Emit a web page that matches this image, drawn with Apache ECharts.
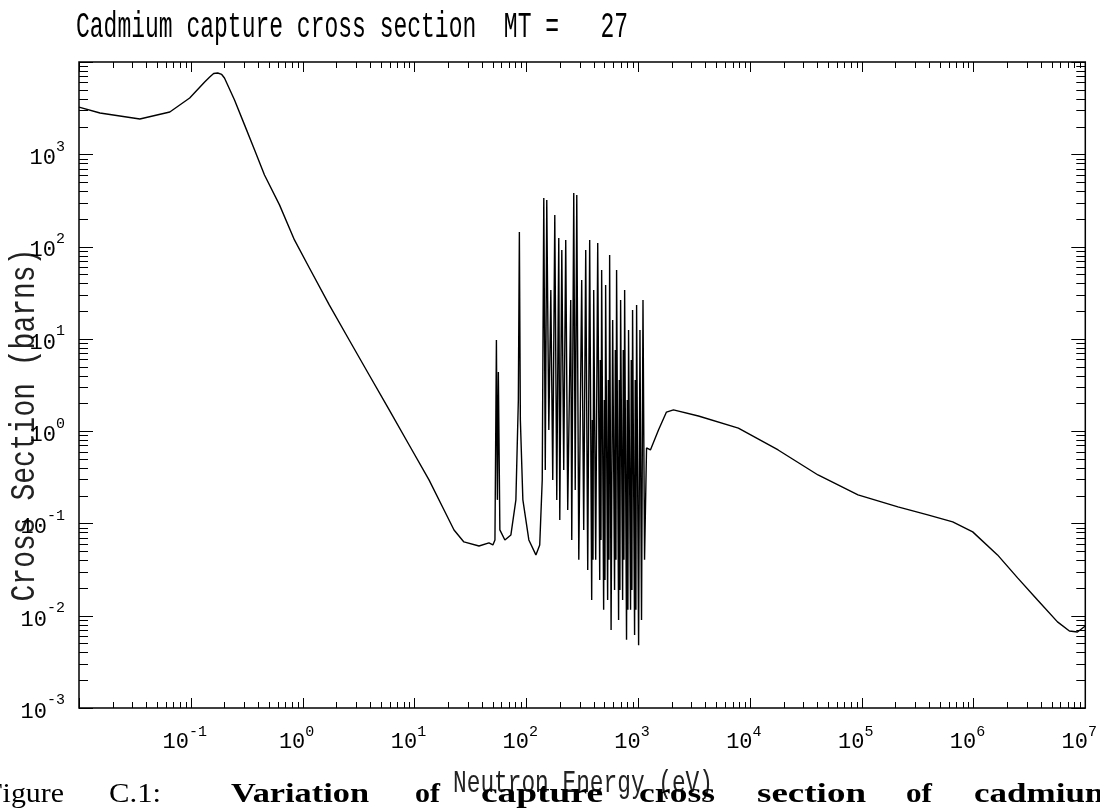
<!DOCTYPE html>
<html><head><meta charset="utf-8">
<script src="https://cdn.jsdelivr.net/npm/echarts@6/dist/echarts.min.js"></script>
<style>html,body{margin:0;padding:0;background:#fff}#c{width:1100px;height:810px}</style>
</head><body><div id="c"></div>
<script>
// ---- data ----
const energyEV = [
  0.01, 0.0154, 0.035, 0.0649, 0.0977, 0.133, 0.1476, 0.16, 0.174, 0.189, 0.2, 0.246, 0.303, 0.372, 0.456, 0.621, 0.845,
  1.15, 1.73, 2.61, 3.94, 5.95, 8.97, 13.5, 18.4, 22.6, 27.7, 37.8, 46.4, 50.3, 52.5, 54.1, 55.2, 56.3,
  58.1, 64.4, 72.9, 80.8, 85.0, 86.8, 88.6, 93.3, 105.5, 122, 132, 139, 143.5, 148, 152.6, 159.2, 165.9,
  172.6, 180, 187.5, 195.4, 199.5, 208, 216.4, 225.5, 235, 250, 255.3, 266, 274.2, 283.1, 295.1, 313.3,
  326.6, 340.4, 354.8, 369.3, 384.9, 390.5, 395.3, 401.2, 418.1, 435.8, 454.2, 460, 465.8, 472.5, 492.4,
  499.5, 505.6, 512.9, 534.6, 542.2, 548.9, 557, 574,
  592.9, 616.6, 626.2, 633.9, 642.7, 669.9, 679.6, 688, 698.2, 727.8, 737.9, 747, 758.6, 788.9, 801.2, 811,
  822.3, 857.1, 869.8, 880.7, 893.3, 931.1, 944.1, 955.9, 970.5, 1011.6,
  1040, 1074, 1107, 1142.9, 1191, 1290, 1523, 1795, 2074, 3467, 7890, 17900, 40700, 92700, 211000,
  390000, 652000, 984000, 1.64e6, 2.48e6, 3.74e6, 5.64e6, 7.21e6, 8.51e6, 1e7
];
const captureBarns = [
  3240, 2800, 2410, 2870, 4070, 6070, 6880, 7500, 7600, 7330, 6710, 3870, 2070, 1110, 597, 283, 118,
  58.6, 23.3, 9.72, 4.06, 1.70, 0.708, 0.296, 0.14, 0.085, 0.063, 0.057, 0.0615, 0.0585, 0.0662, 9.72, 0.180, 4.37,
  0.0851, 0.0662, 0.075, 0.18, 2.18, 144, 1.32, 0.180, 0.0662, 0.0456, 0.0585, 0.296, 336, 0.380, 320, 1.03, 33.9,
  0.296, 220, 0.180, 124, 0.109, 91.8, 0.38, 118, 0.14, 26.4, 0.0662, 381, 0.231, 362, 0.0403, 43.4,
  0.0851, 91.8, 0.0313, 118, 0.0148, 1.32, 0.0403, 33.9, 0.0403, 109, 0.0244, 5.91, 0.0662, 55.8, 0.0116,
  2.18, 0.0244, 38.4, 0.0148, 3.59, 0.0403, 81.1, 0.0070,
  16.0, 0.0190, 7.59, 0.0403, 55.8, 0.0090, 3.59, 0.0190, 26.4, 0.0148, 7.59, 0.0403, 33.9, 0.0055, 2.18, 0.0116,
  12.5, 0.0116, 5.91, 0.0190, 20.6, 0.0062, 3.59, 0.0116, 23.3, 0.0048,
  12.5, 0.0090, 26.4, 0.0403, 0.658, 0.625, 1.03, 1.61, 1.70, 1.46, 1.08, 0.625, 0.335, 0.204, 0.151,
  0.124, 0.104, 0.081, 0.0456, 0.0257, 0.0148, 0.00857, 0.00684, 0.00667, 0.00774
];
const xDecades = [-2, -1, 0, 1, 2, 3, 4, 5, 6, 7];
const yDecades = [-3, -2, -1, 0, 1, 2, 3, 4];
const minorMultipliers = [2, 3, 4, 5, 6, 7, 8, 9];
const titleText = 'Cadmium capture cross section  MT =   27';
const xAxisName = 'Neutron Energy (eV)';
const yAxisName = 'Cross Section (barns)';
const captionWords = ['Figure', 'C.1:', 'Variation', 'of', 'capture', 'cross', 'section', 'of', 'cadmium'];
const captionBold = [false, false, true, true, true, true, true, true, true];

// ---- layout ----
const X_MIN = 0.01, X_MAX = 1e7, Y_MIN = 1e-3, Y_MAX = 1e4;
const captionLeft = [-14, 109, 231, 415, 481, 639, 757, 906, 974];
const captionWidth = [78, 52, 138, 25, 122, 76, 109, 26, 140];
const MONO = '"Liberation Mono", "DejaVu Sans Mono", monospace';
const SERIF = '"Liberation Serif", "DejaVu Serif", serif';

const lineData = energyEV.map((e, i) => [e, captureBarns[i]]);

const tickData = [];
xDecades.forEach(d => {
  tickData.push([Math.pow(10, d), 1, 0, 1]);
  if (d < xDecades[xDecades.length - 1]) minorMultipliers.forEach(m => tickData.push([m * Math.pow(10, d), 1, 0, 0]));
});
yDecades.forEach(d => {
  tickData.push([1, Math.pow(10, d), 1, 1]);
  if (d < yDecades[yDecades.length - 1]) minorMultipliers.forEach(m => tickData.push([1, m * Math.pow(10, d), 1, 0]));
});

const measureCtx = document.createElement('canvas').getContext('2d');
function natWidth(text, font) { measureCtx.font = font; return measureCtx.measureText(text).width; }

const captionGraphics = captionWords.map((w, i) => {
  const font = (captionBold[i] ? 'bold ' : '') + '27px ' + SERIF;
  const sx = captionWidth[i] / natWidth(w, font);
  return {
    type: 'text', x: captionLeft[i], y: 795, scaleX: sx, z: 100,
    style: { text: w, font: font, fill: '#000', textAlign: 'left', textVerticalAlign: 'middle' }
  };
});

function expLabel(v) {
  const e = Math.round(Math.log10(v));
  return '{b|10}{e|' + e + '}';
}

const chart = echarts.init(document.getElementById('c'), null, { renderer: 'canvas' });
chart.setOption({
  backgroundColor: '#fff',
  animation: false,
  grid: { left: 79, right: 12, top: 62, bottom: 102, show: true, borderColor: '#000', borderWidth: 1.5, backgroundColor: 'transparent' },
  xAxis: {
    type: 'log', logBase: 10, min: X_MIN, max: X_MAX, interval: 1,
    axisLine: { show: false }, axisTick: { show: false }, splitLine: { show: false },
    axisLabel: {
      showMinLabel: false, margin: 17, color: '#000', formatter: expLabel, padding: [0, 12, 0, 0],
      rich: {
        b: { fontFamily: MONO, fontSize: 22, color: '#000', lineHeight: 28, verticalAlign: 'bottom' },
        e: { fontFamily: MONO, fontSize: 15, color: '#000', lineHeight: 14, verticalAlign: 'top' }
      }
    }
  },
  yAxis: {
    type: 'log', logBase: 10, min: Y_MIN, max: Y_MAX, interval: 1,
    axisLine: { show: false }, axisTick: { show: false }, splitLine: { show: false },
    axisLabel: {
      showMaxLabel: false, margin: 14, color: '#000', formatter: expLabel,
      rich: {
        b: { fontFamily: MONO, fontSize: 22, color: '#000', lineHeight: 30, verticalAlign: 'bottom', width: 18 },
        e: { fontFamily: MONO, fontSize: 15, color: '#000', lineHeight: 14, verticalAlign: 'top' }
      }
    }
  },
  graphic: [
    { type: 'text', x: 76, y: 27, scaleY: 1.6, style: { text: titleText, font: '23px ' + MONO, fill: '#000', textAlign: 'left', textVerticalAlign: 'middle' } },
    { type: 'text', x: 583, y: 784, scaleY: 1.4, z: 50, style: { text: xAxisName, font: '22.8px ' + MONO, fill: '#222', textAlign: 'center', textVerticalAlign: 'middle' } },
    { type: 'text', x: 25, y: 425, rotation: Math.PI / 2, scaleX: 1.12, scaleY: 1.4, style: { text: yAxisName, font: '25px ' + MONO, fill: '#222', textAlign: 'center', textVerticalAlign: 'middle' } }
  ].concat(captionGraphics),
  series: [
    {
      type: 'line', data: lineData, showSymbol: false, symbol: 'none',
      lineStyle: { color: '#000', width: 1.4 }, z: 5, silent: true
    },
    {
      type: 'custom', data: tickData, encode: { x: 0, y: 1 }, clip: false, silent: true, z: 6,
      renderItem: function (params, api) {
        const kind = api.value(2), major = api.value(3);
        const st = { stroke: '#000', lineWidth: 1 };
        if (kind === 0) {
          const v = api.value(0);
          const b = api.coord([v, Y_MIN]), t = api.coord([v, Y_MAX]);
          const x = Math.round(b[0]) + 0.5, len = major ? 10 : 6;
          return { type: 'group', children: [
            { type: 'line', shape: { x1: x, y1: b[1], x2: x, y2: b[1] - len }, style: st },
            { type: 'line', shape: { x1: x, y1: t[1], x2: x, y2: t[1] + len }, style: st }
          ] };
        } else {
          const v = api.value(1);
          const l = api.coord([X_MIN, v]), r = api.coord([X_MAX, v]);
          const y = Math.round(l[1]) + 0.5, len = major ? 14 : 9;
          return { type: 'group', children: [
            { type: 'line', shape: { x1: l[0], y1: y, x2: l[0] + len, y2: y }, style: st },
            { type: 'line', shape: { x1: r[0], y1: y, x2: r[0] - len, y2: y }, style: st }
          ] };
        }
      }
    }
  ]
});
</script></body></html>
